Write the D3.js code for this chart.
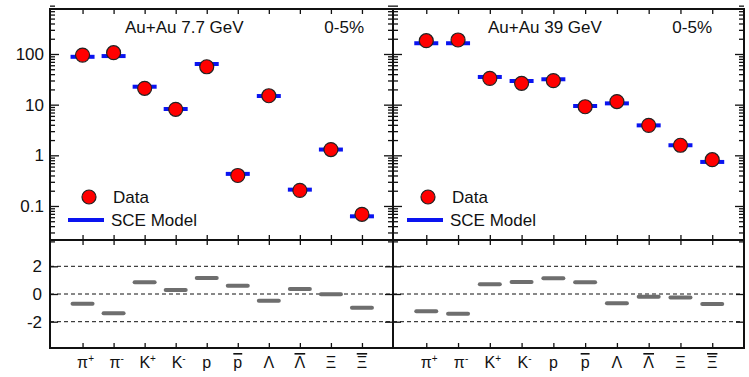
<!DOCTYPE html>
<html>
<head>
<meta charset="utf-8">
<script src="https://cdn.jsdelivr.net/npm/d3@7"></script>
<style>
  body { margin: 0; background: #fff; }
  svg { display: block; font-family: "Liberation Sans", Arial, Helvetica, sans-serif; }
</style>
</head>
<body>
<div id="container"></div>
<script>
const WIDTH = 749;
const HEIGHT = 377;
const TOP = { Y0: 9, Y1: 240 };
const BOT = { Y0: 240, Y1: 348 };
const PANELS_X = [[50, 393], [393, 744]];

// particle labels
const labelBase = ['π', 'π', 'K', 'K', 'p', 'p', 'Λ', 'Λ', 'Ξ', 'Ξ'];
const labelSup = ['+', '-', '+', '-', '', '', '', '', '', ''];
const labelBar = [false, false, false, false, false, true, false, true, false, true];

// yields dN/dy, 0-5% central
const data77 = [95, 106, 21, 8.1, 56, 0.40, 15, 0.203, 1.30, 0.0685];
const model77 = [88, 91, 22.6, 8.2, 63.5, 0.43, 14.8, 0.21, 1.30, 0.0625];
const data39 = [183, 189, 33, 26.4, 29.8, 9.1, 11.5, 3.9, 1.58, 0.82];
const model39 = [163, 163, 35.2, 29.3, 31.7, 9.4, 10.6, 3.9, 1.58, 0.74];

// (data - model) / error
const resid77 = [-0.70, -1.39, 0.84, 0.29, 1.15, 0.60, -0.48, 0.36, -0.02, -1.0];
const resid39 = [-1.25, -1.42, 0.70, 0.87, 1.13, 0.84, -0.67, -0.19, -0.26, -0.72];

const titles = ['Au+Au 7.7 GeV', 'Au+Au 39 GeV'];
const centrality = '0-5%';

const yMajor = [0.1, 1, 10, 100];
const yMinor = [];
[0.01, 0.1, 1, 10, 100].forEach(d => {
    for (let k = 2; k <= 9; k++) yMinor.push(k * d);
});
const resTicks = [-2, 0, 2];

const svg = d3.select('#container')
              .append('svg')
                .attr('width', WIDTH)
                .attr('height', HEIGHT);

const yscale = d3.scaleLog()
                 .domain([0.0213, 773])
                 .range([TOP.Y1, TOP.Y0]);

const rscale = d3.scaleLinear()
                 .domain([-3.9, 3.9])
                 .range([BOT.Y1, BOT.Y0]);

const FONT = 17;

const clean = g => {
    g.select('.domain').remove();
    g.selectAll('line').attr('stroke', '#111').attr('stroke-width', 1.3);
    g.selectAll('text').attr('font-size', FONT).attr('fill', '#111')
     .attr('font-family', '"Liberation Sans", Arial, sans-serif');
};

// dashed reference lines in the ratio panel span both panels
svg.append('g')
   .selectAll('line')
   .data(resTicks)
   .enter()
   .append('line')
     .attr('x1', PANELS_X[0][0])
     .attr('x2', PANELS_X[1][1])
     .attr('y1', d => rscale(d))
     .attr('y2', d => rscale(d))
     .attr('stroke', '#111')
     .attr('stroke-width', 1)
     .attr('stroke-dasharray', '4,3');

const drawPanel = (idx, data, model, resid) => {
    const [x0, x1] = PANELS_X[idx];
    const xscale = d3.scaleLinear().domain([0, 11]).range([x0 + 1.5, x1]);
    const cats = d3.range(1, 11);

    // y axes, upper panel
    const leftMajor = d3.axisLeft(yscale).tickValues(yMajor).tickSize(-9)
                        .tickPadding(6).tickFormat(d => String(d));
    const leftMinor = d3.axisLeft(yscale).tickValues(yMinor).tickSize(-5).tickFormat('');
    const rightMajor = d3.axisRight(yscale).tickValues(yMajor).tickSize(-9).tickFormat('');
    const rightMinor = d3.axisRight(yscale).tickValues(yMinor).tickSize(-5).tickFormat('');

    const gl = svg.append('g').attr('transform', `translate(${x0},0)`).call(leftMajor).call(clean);
    if (idx === 1) gl.selectAll('text').remove();
    svg.append('g').attr('transform', `translate(${x0},0)`).call(leftMinor).call(clean);
    svg.append('g').attr('transform', `translate(${x1},0)`).call(rightMajor).call(clean);
    svg.append('g').attr('transform', `translate(${x1},0)`).call(rightMinor).call(clean);

    // y axis, ratio panel
    const rl = svg.append('g').attr('transform', `translate(${x0},0)`)
                  .call(d3.axisLeft(rscale).tickValues(resTicks).tickSize(-8)
                          .tickPadding(8).tickFormat(d => String(d)))
                  .call(clean);
    if (idx === 1) rl.selectAll('text').remove();
    svg.append('g').attr('transform', `translate(${x1},0)`)
       .call(d3.axisRight(rscale).tickValues(resTicks).tickSize(-8).tickFormat(''))
       .call(clean);

    // x ticks on all four horizontal edges
    [[TOP.Y0, d3.axisTop], [TOP.Y1, d3.axisBottom], [BOT.Y0, d3.axisTop], [BOT.Y1, d3.axisBottom]]
        .forEach(([y, ax]) => {
            svg.append('g').attr('transform', `translate(0,${y})`)
               .call(ax(xscale).tickValues(cats).tickSize(-5).tickFormat(''))
               .call(clean);
        });

    // frames
    [[TOP.Y0, TOP.Y1], [BOT.Y0, BOT.Y1]].forEach(([ya, yb]) => {
        svg.append('rect')
           .attr('x', x0).attr('y', ya)
           .attr('width', x1 - x0).attr('height', yb - ya)
           .attr('fill', 'none').attr('stroke', '#111').attr('stroke-width', 2);
    });

    // model bars
    svg.append('g')
       .selectAll('line')
       .data(model)
       .enter()
       .append('line')
         .attr('x1', (d, i) => xscale(i + 1) - 12)
         .attr('x2', (d, i) => xscale(i + 1) + 12)
         .attr('y1', d => yscale(d))
         .attr('y2', d => yscale(d))
         .attr('stroke', '#0a14f0')
         .attr('stroke-width', 4);

    // data points
    svg.append('g')
       .selectAll('circle')
       .data(data)
       .enter()
       .append('circle')
         .attr('cx', (d, i) => xscale(i + 1))
         .attr('cy', d => yscale(d))
         .attr('r', 7)
         .attr('fill', '#f00')
         .attr('stroke', '#222')
         .attr('stroke-width', 1.2);

    // residual bars
    svg.append('g')
       .selectAll('line')
       .data(resid)
       .enter()
       .append('line')
         .attr('x1', (d, i) => xscale(i + 1) - 10)
         .attr('x2', (d, i) => xscale(i + 1) + 10)
         .attr('y1', d => rscale(d))
         .attr('y2', d => rscale(d))
         .attr('stroke', '#6e6e6e')
         .attr('stroke-width', 4)
         .attr('stroke-linecap', 'round');

    // particle labels
    const lab = svg.append('g')
                   .selectAll('text')
                   .data(cats)
                   .enter()
                   .append('text')
                     .attr('x', d => xscale(d))
                     .attr('y', 368)
                     .attr('text-anchor', 'middle')
                     .attr('font-size', 16)
                     .attr('fill', '#111');
    lab.append('tspan')
       .text((d, i) => labelBase[i])
       .style('text-decoration', (d, i) => labelBar[i] ? 'overline' : 'none');
    lab.append('tspan')
       .attr('font-size', 10)
       .attr('dy', -6)
       .text((d, i) => labelSup[i]);
    lab.filter((d, i) => labelSup[i] !== '').attr('dx', 3);

    // title and centrality
    svg.append('text')
       .attr('x', idx === 0 ? 125 : 488).attr('y', 33)
       .attr('font-size', FONT).attr('fill', '#111')
       .text(titles[idx]);
    svg.append('text')
       .attr('x', idx === 0 ? 364 : 712).attr('y', 33)
       .attr('text-anchor', 'end')
       .attr('font-size', FONT).attr('fill', '#111')
       .text(centrality);

    // legend
    const lx = idx === 0 ? 0 : 339;
    svg.append('circle')
       .attr('cx', 89 + lx).attr('cy', 197).attr('r', 7)
       .attr('fill', '#f00').attr('stroke', '#222').attr('stroke-width', 1.2);
    svg.append('text')
       .attr('x', 113 + lx).attr('y', 203)
       .attr('font-size', FONT).attr('fill', '#111')
       .text('Data');
    svg.append('line')
       .attr('x1', 68 + lx).attr('x2', 104 + lx)
       .attr('y1', 220).attr('y2', 220)
       .attr('stroke', '#0a14f0').attr('stroke-width', 4);
    svg.append('text')
       .attr('x', 111 + lx).attr('y', 226)
       .attr('font-size', FONT).attr('fill', '#111')
       .text('SCE Model');
};

drawPanel(0, data77, model77, resid77);
drawPanel(1, data39, model39, resid39);
</script>
</body>
</html>
